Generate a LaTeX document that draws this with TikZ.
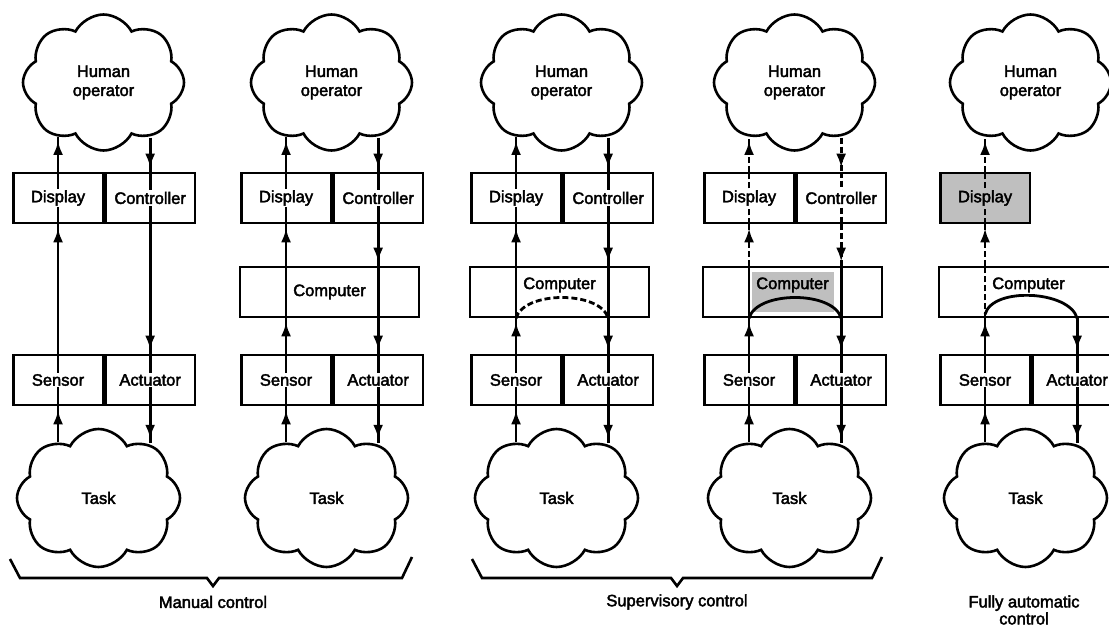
\documentclass[tikz,border=0pt]{standalone}
\usepackage{fontspec}
\setmainfont[FakeBold=2.5]{Liberation Sans}
\usepackage{tikz}
\usetikzlibrary{arrows.meta, calc, shapes.symbols, decorations.markings, backgrounds}

\definecolor{panelgray}{gray}{0.75}

\newcommand{\boxtext}[2][white]{{\setlength{\fboxsep}{1.5pt}\colorbox{#1}{#2}}}

\tikzset{
  half/.style={draw, line width=2.6pt, minimum width=89.5pt, minimum height=50pt, inner sep=0pt},
  whole/.style={draw, line width=2.6pt, minimum width=179pt, minimum height=50pt, inner sep=0pt},
  puff/.style={cloud, cloud puffs=8, cloud puff arc=125, cloud ignores aspect, draw, line width=2.6pt, fill=white, align=center, minimum width=161pt, minimum height=136pt},
  wire/.style={line width=2.8pt},
  dashwire/.style={wire, dash pattern=on 6pt off 3pt},
  tip/.style={postaction={decorate}, decoration={markings, mark=at position -4pt with {\arrow{Latex[length=14pt, width=10pt]}}}},
  brace/.style={line width=2.6pt, line join=miter},
}

% pair of half boxes side by side
\newcommand{\BoxPair}[6]{%
  \node[half, anchor=west] (#1) at (#3,#4) {\boxtext{#5}};
  \node[half, anchor=west] (#2) at (#1.east) {\boxtext{#6}};
}

% bracket with its caption below
\newcommand{\Bracket}[5]{%
  \draw[brace] (#2,559) -- (#2+10,578) -- (#4-6,578) -- (#4,586) -- (#4+6,578) -- (#3-10,578) -- (#3,557);
  \node (#1) at (#4,602) {#5};
}

\begin{document}
\begin{tikzpicture}[x=1pt, y=-1pt, font=\fontsize{16.5}{19}\selectfont]
  \useasboundingbox (0,0) rectangle (1109,626);

  % boxes
  \foreach \n/\x in {1/12, 2/240, 3/470, 4/703} {
    \BoxPair{dis\n}{con\n}{\x}{198}{Display}{Controller}
  }
  \foreach \n/\x in {1/12, 2/240, 3/470, 4/703, 5/939} {
    \BoxPair{sen\n}{act\n}{\x}{380}{Sensor}{Actuator}
  }
  \node[half, anchor=west] (dis5) at (939,198) {\boxtext[panelgray]{Display}};

  \node[whole] (com2) at (329.5,292) {\boxtext{Computer}};
  \node[whole] (com3) at (559.5,292) {};
  \node[whole] (com4) at (792.5,292) {};
  \node[whole] (com5) at (1028.5,292) {};
  \node (com3t) at ($(com3)+(0,-7)$) {\boxtext{Computer}};
  \node (com4t) at ($(com4)+(0,-7)$) {\boxtext[panelgray]{Computer}};
  \node (com5t) at ($(com5)+(0,-7)$) {\boxtext{Computer}};

  % clouds
  \foreach \n/\x in {1/101.5, 2/329.5, 3/559.5, 4/792.5, 5/1028.5} {
    \node[puff] (hum\n) at (\x+2,82.5) {Human\\operator};
    \node[puff, minimum width=163pt, minimum height=138pt] (tsk\n) at (\x-3,498) {Task};
  }

  \begin{scope}[on background layer]
    \fill[panelgray] (dis5.south west) rectangle (dis5.north east);
    \fill[panelgray] ($(com4)+(-41,-20)$) rectangle ($(com4)+(41,20)$);

    % task side
    \foreach \n in {1,...,5} {
      \draw[wire, tip] (sen\n.south |- tsk\n.125) -- (sen\n.south);
      \draw[wire] (sen\n.south) -- (sen\n.north);
      \draw[wire] (act\n.north) -- (act\n.south);
      \draw[wire, tip] (act\n.south) -- (act\n.south |- tsk\n.50);
    }
    % operator side
    \foreach \n/\s in {1/wire, 2/wire, 3/wire, 4/dashwire} {
      \draw[\s] (dis\n.south) -- (dis\n.north);
      \draw[\s, tip] (dis\n.north) -- (dis\n.north |- hum\n.230);
      \draw[\s, tip] (con\n.north |- hum\n.306) -- (con\n.north);
      \draw[\s] (con\n.north) -- (con\n.south);
    }
    \draw[wire, tip] (sen1.north) -- (dis1.south);
    \draw[wire, tip] (con1.south) -- (act1.north);

    % through the computer
    \foreach \n/\s in {2/wire, 3/wire, 4/dashwire} {
      \draw[wire, tip] (sen\n.north) -- (com\n.south -| sen\n);
      \draw[wire] (com\n.south -| sen\n) -- (com\n.north -| sen\n);
      \draw[\s, tip] (com\n.north -| dis\n) -- (dis\n.south);
      \draw[\s, tip] (con\n.south) -- (com\n.north -| con\n);
      \draw[wire] (com\n.north -| con\n) -- (com\n.south -| con\n);
      \draw[wire, tip] (com\n.south -| act\n) -- (act\n.north);
    }
    \draw[dashwire] (com3.south -| sen3) to[out=75, in=105, looseness=0.8] (com3.south -| act3);
    \draw[wire] (com4.south -| sen4) to[out=75, in=105, looseness=0.8] (com4.south -| act4);

    % fully automatic
    \draw[wire, tip] (sen5.north) -- (com5.south -| sen5);
    \draw[dashwire] (com5.south -| sen5) -- (com5.north -| sen5);
    \draw[dashwire, tip] (com5.north -| dis5) -- (dis5.south);
    \draw[dashwire] (dis5.south) -- (dis5.north);
    \draw[dashwire, tip] (dis5.north) -- (dis5.north |- hum5.230);
    \draw[wire] ($(com5.south -| sen5)+(0,-4)$) to[out=75, in=105, looseness=0.8] (com5.south -| act5);
    \draw[wire, tip] (com5.south -| act5) -- (act5.north);
  \end{scope}

  \Bracket{man}{10}{412}{213}{Manual control}
  \Bracket{sup}{472}{882}{677}{Supervisory control}
  \node[align=center] (aut) at (1024,610) {Fully automatic\\[-2pt]control};

\end{tikzpicture}
\end{document}
